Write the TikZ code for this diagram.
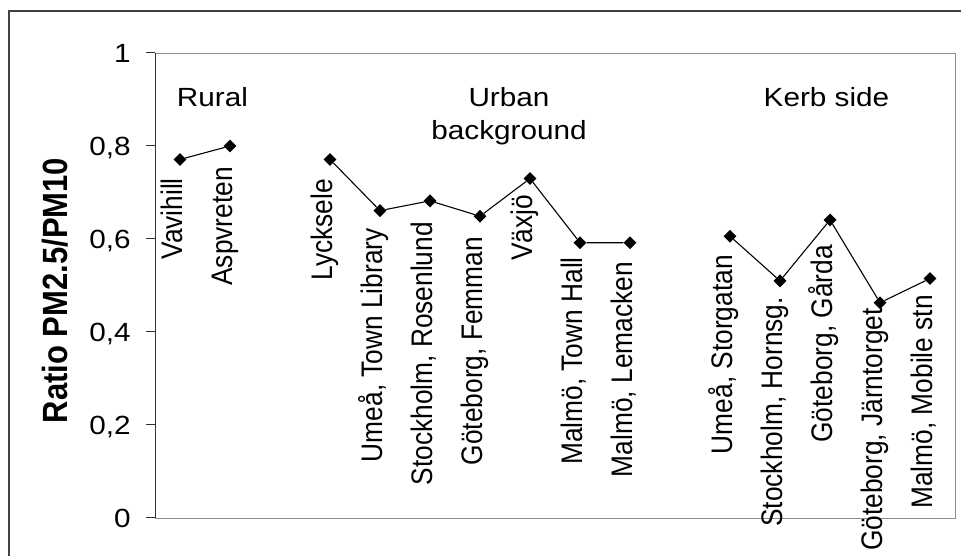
\documentclass[tikz,border=0pt]{standalone}
\usepackage{fontspec}
\setmainfont{Liberation Sans}
\usetikzlibrary{shapes.geometric, positioning, calc}

\tikzset{
  txt/.style={font=\fontsize{26.3}{33}\selectfont, inner sep=0pt, xscale=1.13, text=black},
  site/.style={txt, rotate=90, anchor=east, text height=0.72em, text depth=0.2em},
  pt/.style={diamond, fill=black, inner sep=0pt, minimum size=13pt},
  link/.style={line width=1.1pt},
  axis/.style={black!80, line width=1pt}
}

\begin{document}
\begin{tikzpicture}[x=1pt, y=1pt]
\useasboundingbox (0,0) rectangle (961,556);
\clip (0,0) rectangle (961,556);
\fill[white] (0,0) rectangle (961,556);
\draw[black!75, line width=1.3pt] (9,-30) rectangle (1000,545);
\draw[gray!90, line width=0.9pt] (155,38) rectangle (955,503);
\draw[axis] (155,38) -- (155,503);
\foreach \v/\t [count=\k] in {0/0, 0.2/{0,2}, 0.4/{0,4}, 0.6/{0,6}, 0.8/{0,8}, 1/1}
{
  \draw[axis] (146,{38+465*\v}) -- (155,{38+465*\v});
  \node[txt, anchor=base east] (Y\k) at (131,{38+465*\v-9.3}) {\t};
}
\node[txt, font=\fontsize{31}{36}\selectfont\bfseries, rotate=90] (Ratio) at (55,265.5) {Ratio PM2.5/PM10};

\node[txt, anchor=base] (Rural) at (212.5,449) {Rural};
\node[txt, anchor=base, align=center] (Urban) at (509,416) {Urban\\background};
\node[txt, anchor=base] (Kerb) at (826.5,449) {Kerb side};

\foreach \n/\i/\v/\top/\txt in {
  1/0/0.771/178/Vavihill,
  2/1/0.800/167/Aspvreten,
  3/3/0.771/179/Lycksele,
  4/4/0.661/228/{Umeå, Town Library},
  5/5/0.682/222/{Stockholm, Rosenlund},
  6/6/0.649/237/{Göteborg, Femman},
  7/7/0.730/195/Växjö,
  8/8/0.592/257/{Malmö, Town Hall},
  9/9/0.592/262/{Malmö, Lemacken},
  10/11/0.606/255/{Umeå, Storgatan},
  11/12/0.510/297/{Stockholm, Hornsg.},
  12/13/0.641/245/{Göteborg, Gårda},
  13/14/0.463/308/{Göteborg, Järntorget},
  14/15/0.515/295/{Malmö, Mobile stn}}
{
  \node[pt] (P\n) at ({180+50*\i},{38+465*\v}) {};
  \node[site] (L\n) at ({180+50*\i},{556-\top}) {\txt};
}

\draw[link] (P1) -- (P2);
\draw[link] (P3) -- (P4) -- (P5) -- (P6) -- (P7) -- (P8) -- (P9);
\draw[link] (P10) -- (P11) -- (P12) -- (P13) -- (P14);
\end{tikzpicture}
\end{document}
